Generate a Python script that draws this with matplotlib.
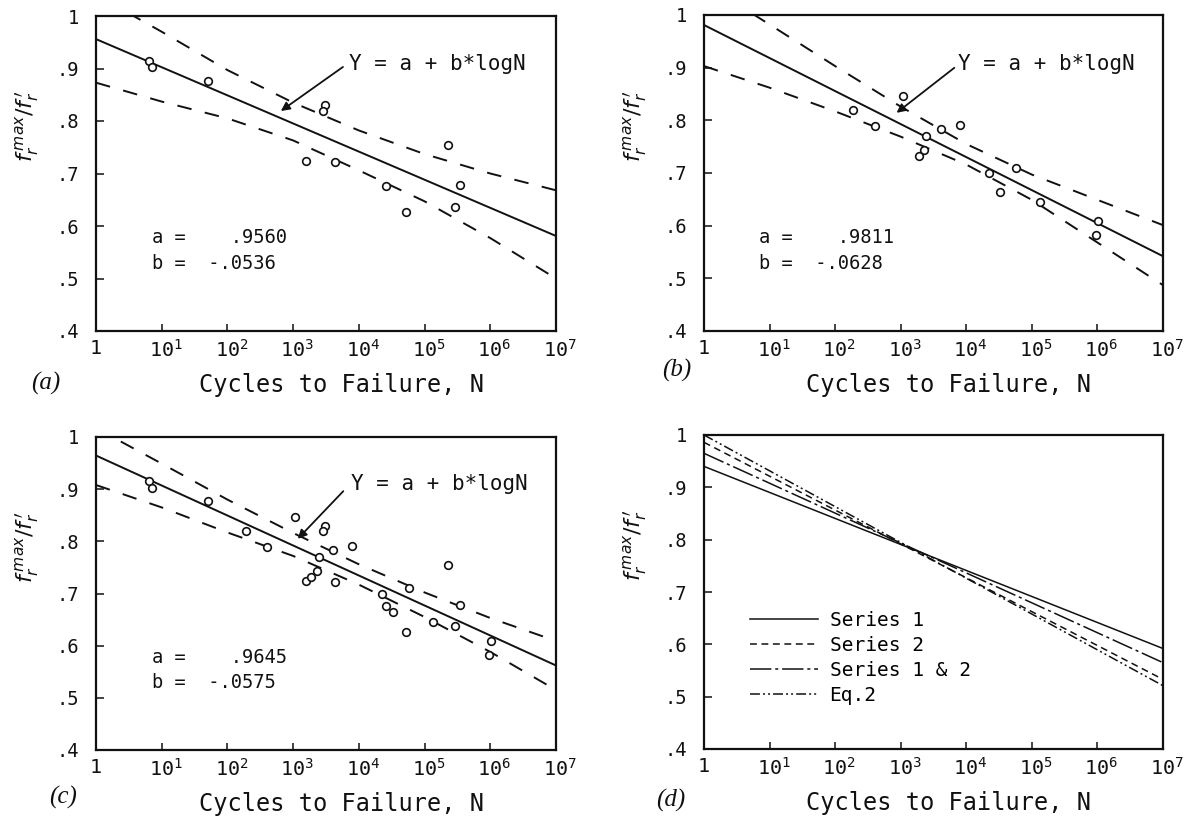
import matplotlib
matplotlib.use("Agg")
import matplotlib.pyplot as plt
from matplotlib.ticker import NullLocator
from matplotlib.transforms import ScaledTranslation

plt.rcParams["font.family"] = ["DejaVu Sans Mono"]
plt.rcParams["mathtext.fontset"] = "dejavusans"

# ---- data ----
N_GRID = [1, 1e1, 1e2, 1e3, 1e4, 1e5, 1e6, 1e7]
N_ENDS = [1, 1e7]

# Series 1 -> panel (a)
S1_N = [6.5, 7.2, 51, 3020, 2820, 1550, 4270, 25700, 51300, 224000, 347000, 295000]
S1_Y = [0.915, 0.903, 0.877, 0.830, 0.819, 0.724, 0.722, 0.676, 0.626, 0.755, 0.678, 0.637]
S1_FIT = [0.956, 0.581]
S1_UPPER = [1.040, 0.970, 0.897, 0.835, 0.782, 0.737, 0.700, 0.668]
S1_LOWER = [0.873, 0.837, 0.805, 0.763, 0.706, 0.647, 0.577, 0.500]

# Series 2 -> panel (b)
S2_N = [190, 400, 1070, 2450, 2290, 1900, 4070, 7940, 22400, 57500, 33100,
        135000, 1.02e6, 9.5e5]
S2_Y = [0.819, 0.790, 0.846, 0.770, 0.743, 0.732, 0.784, 0.792, 0.700, 0.710,
        0.664, 0.645, 0.609, 0.582]
S2_FIT = [0.981, 0.542]
S2_UPPER = [1.060, 0.982, 0.903, 0.826, 0.755, 0.697, 0.649, 0.601]
S2_LOWER = [0.903, 0.862, 0.817, 0.769, 0.716, 0.649, 0.568, 0.487]

# Series 1 & 2 -> panel (c)
S12_FIT = [0.9645, 0.562]
S12_UPPER = [1.017, 0.949, 0.880, 0.816, 0.756, 0.702, 0.653, 0.609]
S12_LOWER = [0.908, 0.865, 0.817, 0.772, 0.717, 0.655, 0.588, 0.515]

# panel (d) comparison lines
D_LABELS = ["Series 1", "Series 2", "Series 1 & 2", "Eq.2"]
D_VALUES = [[0.940, 0.592], [0.986, 0.533], [0.965, 0.565], [1.000, 0.521]]

COEFS = {"a": (".9560", "-.0536"), "b": (".9811", "-.0628"), "c": (".9645", "-.0575")}

X_TICKS = [1, 1e1, 1e2, 1e3, 1e4, 1e5, 1e6, 1e7]
X_LABELS = ["1",
            r"$\mathtt{10}^{\mathtt{1}}$", r"$\mathtt{10}^{\mathtt{2}}$",
            r"$\mathtt{10}^{\mathtt{3}}$", r"$\mathtt{10}^{\mathtt{4}}$",
            r"$\mathtt{10}^{\mathtt{5}}$", r"$\mathtt{10}^{\mathtt{6}}$",
            r"$\mathtt{10}^{\mathtt{7}}$"]
Y_TICKS = [0.4, 0.5, 0.6, 0.7, 0.8, 0.9, 1.0]
Y_LABELS = [".4", ".5", ".6", ".7", ".8", ".9", "1"]

K = "#111111"
W, H = 1190, 816

fig = plt.figure(figsize=(W / 100, H / 100), dpi=100)


def px_axes(left, top, right, bottom):
    return fig.add_axes([left / W, 1 - bottom / H, (right - left) / W, (bottom - top) / H])


def style(ax):
    ax.set_xscale("log")
    ax.set_xlim(1, 1e7)
    ax.set_ylim(0.4, 1.0)
    ax.xaxis.set_minor_locator(NullLocator())
    ax.set_xticks(X_TICKS)
    ax.set_xticklabels(X_LABELS)
    ax.set_yticks(Y_TICKS)
    ax.set_yticklabels(Y_LABELS)
    ax.tick_params(axis="x", direction="in", length=5, width=1.1, pad=6,
                   labelsize=14.5, colors=K)
    ax.tick_params(axis="y", direction="in", length=6, width=1.1, pad=12,
                   labelsize=13.5, colors=K)
    # "10" sits centred on the tick, exponent hangs to the right
    shift = ScaledTranslation(4 / 100, 0, fig.dpi_scale_trans)
    for lab in ax.get_xticklabels()[1:]:
        lab.set_transform(lab.get_transform() + shift)
    for sp in ax.spines.values():
        sp.set_linewidth(1.6)
        sp.set_color(K)
    ax.set_xlabel("Cycles to Failure, N", fontsize=17, color=K, va="center")
    ax.xaxis.set_label_coords(0.533, -0.172)
    ax.text(-0.15, 0.65, r"$f_r^{\,max}/f_r^{\,\prime}$", transform=ax.transAxes,
            rotation=90, ha="center", va="center", fontsize=16, color=K)


def fit_panel(ax, pts_n, pts_y, fit, upper, lower, coef, eq_xy, tail, head):
    ax.plot(N_ENDS, fit, color=K, lw=1.4)
    for band in (upper, lower):
        ax.plot(N_GRID, band, color=K, lw=1.4, dashes=(7.5, 7))
    ax.plot(pts_n, pts_y, "o", ms=5.5, mfc="white", mec=K, mew=1.2, ls="none")
    ax.text(eq_xy[0], eq_xy[1], "Y = a + b*logN", fontsize=15, color=K,
            ha="left", va="center")
    ax.annotate("", xy=head, xytext=tail,
                arrowprops=dict(arrowstyle="-|>", lw=1.3, color=K, mutation_scale=13))
    ax.text(7.0, 0.578, "a =    " + coef[0], fontsize=13.5, color=K, ha="left", va="center")
    ax.text(7.0, 0.529, "b =  " + coef[1], fontsize=13.5, color=K, ha="left", va="center")


ax_a = px_axes(96, 16, 556, 331)
style(ax_a)
fit_panel(ax_a, S1_N, S1_Y, S1_FIT, S1_UPPER, S1_LOWER, COEFS["a"],
          (7000, 0.908), (6200, 0.906), (600, 0.816))

ax_b = px_axes(704, 15, 1163, 331)
style(ax_b)
fit_panel(ax_b, S2_N, S2_Y, S2_FIT, S2_UPPER, S2_LOWER, COEFS["b"],
          (7500, 0.907), (7100, 0.903), (800, 0.811))

ax_c = px_axes(96, 437, 556, 750)
style(ax_c)
fit_panel(ax_c, S1_N + S2_N, S1_Y + S2_Y, S12_FIT, S12_UPPER, S12_LOWER, COEFS["c"],
          (7700, 0.909), (6200, 0.900), (1100, 0.801))

ax_d = px_axes(704, 435, 1163, 749)
style(ax_d)
d_styles = [dict(ls="-"), dict(dashes=(4.5, 3)), dict(dashes=(14, 2.5, 2, 2.5)),
            dict(dashes=(6.5, 2, 1.3, 2, 1.3, 2))]
for lab, vals, st in zip(D_LABELS, D_VALUES, d_styles):
    ax_d.plot(N_ENDS, vals, color=K, lw=1.1, label=lab, **st)
ax_d.legend(loc="center left", bbox_to_anchor=(0.10, 0.29), frameon=False,
            fontsize=14, handlelength=3.5, handletextpad=0.6, labelspacing=0.3,
            borderpad=0, borderaxespad=0)

for txt, x, y in [("(a)", 46, 383), ("(b)", 677, 370), ("(c)", 63, 797), ("(d)", 671, 800)]:
    fig.text(x / W, 1 - y / H, txt, ha="center", va="center", fontsize=18,
             family="Liberation Serif", style="italic", color=K)

fig.savefig("out.png", dpi=100)
